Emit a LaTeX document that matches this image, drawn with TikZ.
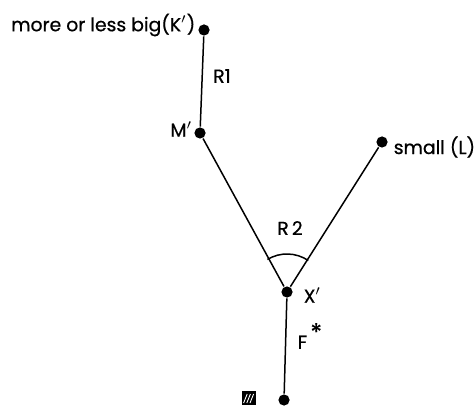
\documentclass[tikz,border=0pt]{standalone}
\usepackage{fontspec}
\setmainfont{Poppins}[FakeBold=0.6]
\usetikzlibrary{positioning}
\tikzset{
  dot/.style={circle, fill=black, inner sep=0pt, minimum size=5.6pt},
  lbl/.style={font=\fontsize{9.4}{11}\selectfont, inner sep=1pt}
}

\begin{document}
\begin{tikzpicture}[x=0.5pt, y=-0.5pt, line width=0.75pt]
            \useasboundingbox (0,0) rectangle (474,410);
            % Points
            \node[dot] (bigK) at (204,30) {};
            \node[dot] (midM) at (200,133) {};
            \node[dot] (smallL) at (382,142) {};
            \node[dot] (crossX) at (287,292) {};
            \node[dot] (baseF) at (284,400) {};
            
            % Hatched box
            \node[fill=black, minimum size=7pt, inner sep=0pt,
                  path picture={
                    \foreach \d in {0.8,2.4,4.0}
                      \draw[white, line width=0.45pt] ([xshift=\d pt, yshift=1pt]path picture bounding box.south west) -- ++(1.8pt,4.5pt);
                  }] (hatch) at (249,398) {};
            
            % Labels
            \node[lbl, anchor=east] (bigKlabel) at (198,25) {more or less big(K$'$)};
            \node[lbl, anchor=west] (smallLlabel) at (391,147) {small (L)};
            \node[lbl, anchor=east] (midMlabel) at (195,129) {M$'$};
            \node[lbl, anchor=west] (crossXlabel) at (301,295) {X$'$};
            \node[lbl] (ronelabel) at (222,76) {R1};
            \node[lbl] (rtwolabel) at (290,228) {R\,2};
            \node[lbl, anchor=west] (fstarlabel) at (295,336) {F\,\raisebox{4pt}{\large *}};
            
            % Connections
            \draw (bigK) -- (midM);
            \draw (midM) -- (crossX);
            \draw (crossX) -- (smallL);
            \draw (crossX) -- (baseF);
            \draw (crossX) ++(121:19pt) arc[start angle=121, end angle=56, radius=19pt];
        \end{tikzpicture}
\end{document}
